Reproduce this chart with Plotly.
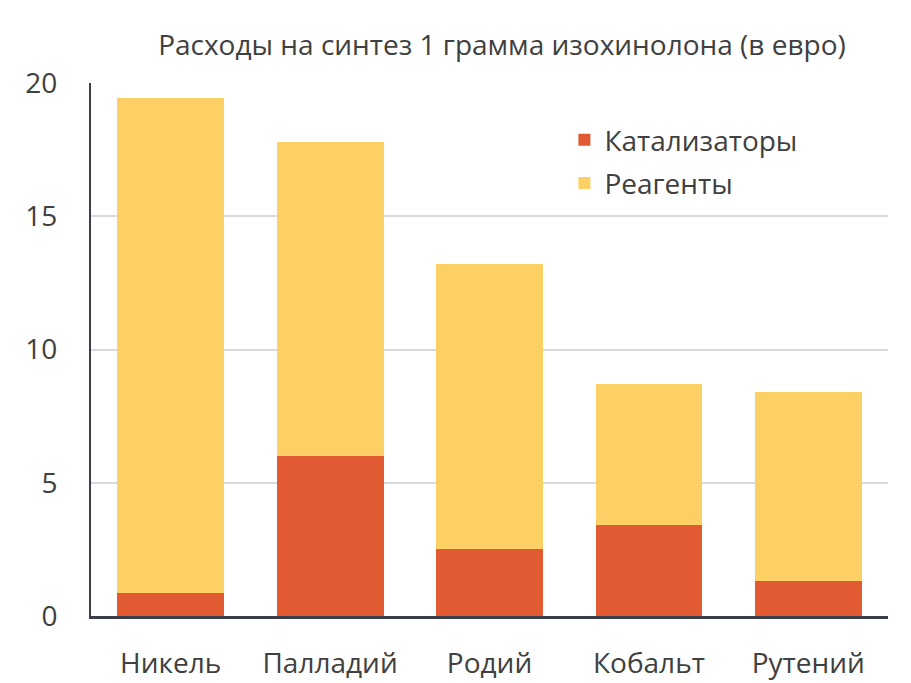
import plotly.graph_objects as go

metals = ["Никель", "Палладий", "Родий", "Кобальт", "Рутений"]
catalysts = [0.87, 6.0, 2.5, 3.4, 1.3]
reagents = [18.55, 11.8, 10.7, 5.3, 7.1]

CAT_COLOR = "#E15A31"
REAG_COLOR = "#FDD066"
FONT = "Open Sans"
TXT = "#404040"

fig = go.Figure()
fig.add_trace(go.Bar(x=metals, y=catalysts, name="Катализаторы", legendgroup="c",
                     marker=dict(color=CAT_COLOR, line=dict(width=0))))
fig.add_trace(go.Bar(x=metals, y=reagents, name="Реагенты", legendgroup="r",
                     marker=dict(color=REAG_COLOR, line=dict(width=0))))

# page has an 8px body margin, so the figure is a bit smaller than the window
fig.update_layout(
    barmode="stack",
    bargap=0.33,
    width=903, height=675,
    margin=dict(l=83, r=23, t=75, b=67),
    paper_bgcolor="white",
    plot_bgcolor="white",
    font=dict(family=FONT, size=28, color=TXT),
    title=dict(text="Расходы на синтез 1 грамма изохинолона (в евро)",
               x=0.547, xanchor="center", y=0.945, yanchor="middle",
               font=dict(family=FONT, size=28, color=TXT)),
    legend=dict(x=0.594, y=0.94, xanchor="left", yanchor="top",
                bgcolor="rgba(0,0,0,0)", tracegroupgap=4,
                traceorder="grouped",
                font=dict(family=FONT, size=28, color=TXT)),
    showlegend=True,
)
fig.update_yaxes(range=[0, 20], dtick=5, showgrid=True, gridcolor="#D9D9D9",
                 gridwidth=2, zeroline=False, showline=True, linecolor="#3B3F4A",
                 linewidth=2, ticks="", ticklabelstandoff=26, automargin=False)
fig.update_xaxes(showline=True, linecolor="#3B3F4A", linewidth=3, ticks="",
                 ticklabelstandoff=20, automargin=False)

fig.write_html("out.html")
